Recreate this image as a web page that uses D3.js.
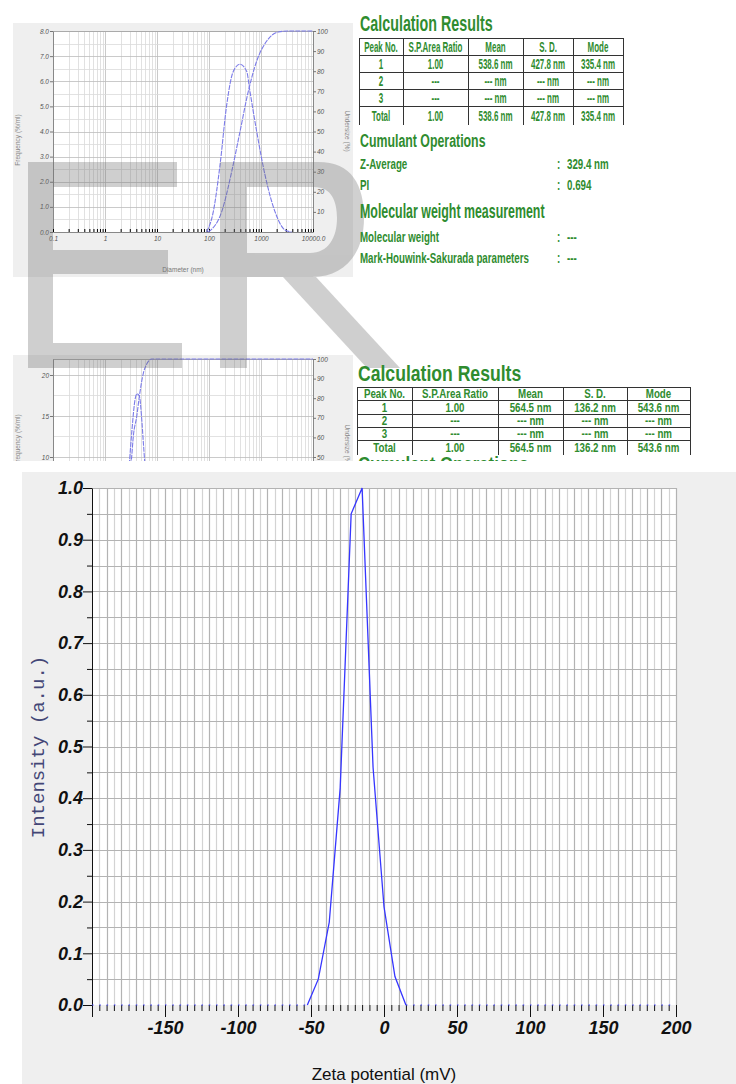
<!DOCTYPE html>
<html>
<head>
<meta charset="utf-8">
<script src="https://cdn.jsdelivr.net/npm/d3@7"></script>
<style>
body{margin:0;background:#fff}
svg{display:block}
text{font-family:"Liberation Sans",Arial,sans-serif}
</style>
</head>
<body>
<div id="demo"></div>
<script>

// ---- size distribution report (top) ----
var sizeFreqD = [90, 121, 163, 219, 293, 395, 531, 614, 826, 1194, 1858, 2894, 3890];
var sizeFreqV = [0, 0.81, 2.67, 5.06, 6.39, 6.68, 6.39, 5.59, 4.0, 2.27, 0.81, 0.08, 0];
var sizeUndD = [97, 175, 273, 395, 570, 826, 1288, 2153, 3300, 10000];
var sizeUndV = [0, 10, 30, 50, 70, 85, 95, 99.5, 100, 100];
var sizeTicksX = [0.1, 1, 10, 100, 1000, 10000];
var sizeTickLbl = ["0.1", "1", "10", "100", "1000", "10000.0"];
var freqTicks = [0, 1, 2, 3, 4, 5, 6, 7, 8];
var underTicks = [10, 20, 30, 40, 50, 60, 70, 80, 90, 100];

// ---- second report (cut off) ----
var size2FreqD = [250, 289, 330, 378, 412, 460, 503, 550, 614, 700];
var size2FreqV = [1, 8.4, 13.3, 17.0, 17.7, 17.4, 15.0, 11.5, 7.2, 2];
var size2UndD = [212, 242, 277, 326, 350, 407, 457, 546, 634, 791, 1000000];
var size2UndV = [0, 15, 35, 50.2, 60.4, 70.6, 80.8, 92.7, 97.4, 100, 100];
var freq2Ticks = [0, 5, 10, 15, 20];

// ---- tables ----
var tableHead = ["Peak No.", "S.P.Area Ratio", "Mean", "S. D.", "Mode"];
var table1 = [
	["1", "1.00", "538.6 nm", "427.8 nm", "335.4 nm"],
	["2", "---", "--- nm", "--- nm", "--- nm"],
	["3", "---", "--- nm", "--- nm", "--- nm"],
	["Total", "1.00", "538.6 nm", "427.8 nm", "335.4 nm"]
];
var table2 = [
	["1", "1.00", "564.5 nm", "136.2 nm", "543.6 nm"],
	["2", "---", "--- nm", "--- nm", "--- nm"],
	["3", "---", "--- nm", "--- nm", "--- nm"],
	["Total", "1.00", "564.5 nm", "136.2 nm", "543.6 nm"]
];
var cumulant = [["Z-Average", "329.4 nm"], ["PI", "0.694"]];
var molWeight = [["Molecular weight", "---"], ["Mark-Houwink-Sakurada parameters", "---"]];

// ---- zeta potential ----
var zeta = [-52.5, -45, -37.5, -30, -22.5, -15, -7.5, 0, 7.5, 15];
var intensity = [0, 0.05, 0.16, 0.42, 0.95, 1.0, 0.46, 0.19, 0.055, 0];
var zetaTicks = [-200, -150, -100, -50, 0, 50, 100, 150, 200];
var intensityTicks = [0, 0.1, 0.2, 0.3, 0.4, 0.5, 0.6, 0.7, 0.8, 0.9, 1.0];

var green = "#2f8c2f";

var svg = d3.select("#demo").append("svg")
	.attr("width", 736)
	.attr("height", 1084);

// condensed green text
function ctext(g, x, y, s, size, sx, anchor) {
	return g.append("text")
		.attr("transform", "translate(" + x + "," + y + ") scale(" + sx + ",1)")
		.attr("text-anchor", anchor || "start")
		.attr("font-size", size)
		.attr("font-weight", "bold")
		.attr("fill", green)
		.text(s);
}

// small size distribution chart
function sizeChart(g, o) {
	var x = d3.scaleLog().domain(o.xDomain).range([53, 313]);
	var yL = d3.scaleLinear().domain(o.yDomain).range([o.bottom, o.top]);
	var yR = d3.scaleLinear().domain([0, 100]).range([o.bottom, o.top]);

	g.append("rect").attr("x", 13).attr("y", o.bgTop).attr("width", 340).attr("height", o.bgH).attr("fill", "#efefef");
	g.append("rect").attr("x", 53).attr("y", o.top).attr("width", 260).attr("height", o.bottom - o.top).attr("fill", "#fff");

	// grid
	g.selectAll(".vg").data(x.ticks()).enter().append("line")
		.attr("x1", function(d) { return Math.round(x(d)) + 0.5; })
		.attr("x2", function(d) { return Math.round(x(d)) + 0.5; })
		.attr("y1", o.top).attr("y2", o.bottom)
		.attr("stroke", function(d) { return Math.abs(Math.log10(d) % 1) < 1e-6 ? "#bdbdbd" : "#d9d9d9"; })
		.attr("stroke-width", 0.8);
	g.selectAll(".hg").data(o.hGrid).enter().append("line")
		.attr("x1", 53).attr("x2", 313)
		.attr("y1", function(d) { return Math.round(yL(d)) + 0.5; })
		.attr("y2", function(d) { return Math.round(yL(d)) + 0.5; })
		.attr("stroke", function(d, i) { return i % 2 ? "#dadada" : "#bdbdbd"; })
		.attr("stroke-width", 0.8);
	g.append("line").attr("x1", 53).attr("x2", 313).attr("y1", o.top + 0.5).attr("y2", o.top + 0.5).attr("stroke", "#aaa");

	// axes
	var left = g.append("g").attr("transform", "translate(53,0)")
		.call(d3.axisLeft(yL).tickValues(o.yTicks).tickFormat(d3.format(o.yFmt)).tickSize(3).tickSizeOuter(0).tickPadding(1));
	var right = g.append("g").attr("transform", "translate(313,0)")
		.call(d3.axisRight(yR).tickValues(underTicks).tickSize(3).tickSizeOuter(0).tickPadding(1));
	var bottom = g.append("g").attr("transform", "translate(0," + o.bottom + ")")
		.call(d3.axisBottom(x).tickValues(sizeTicksX.map(function(d) { return d * o.xShift; }))
			.tickFormat(function(d, i) { return sizeTickLbl[i]; }).tickSize(0).tickPadding(4));
	g.append("g").attr("transform", "translate(0," + o.bottom + ")")
		.call(d3.axisBottom(x).tickValues(x.ticks()).tickFormat("").tickSize(-3).tickSizeOuter(0))
		.select(".domain").remove();
	[left, right, bottom].forEach(function(a) {
		a.selectAll(".domain").attr("stroke", "#888");
		a.selectAll(".tick line").attr("stroke", "#777");
		a.selectAll("text").attr("font-size", 6.5).attr("font-style", "italic").attr("fill", "#555");
	});

	// titles
	g.append("text").attr("transform", "translate(20," + o.lblLeftY + ") rotate(-90)")
		.attr("text-anchor", "middle").attr("font-size", 6.5).attr("fill", "#888").text("Frequency (%/ml)");
	g.append("text").attr("transform", "translate(345," + o.lblRightY + ") rotate(90)")
		.attr("text-anchor", "middle").attr("font-size", 6.5).attr("fill", "#888").text("Undersize (%)");
	if (o.showXLabel) {
		g.append("text").attr("x", 183).attr("y", 272).attr("text-anchor", "middle")
			.attr("font-size", 6.5).attr("fill", "#777").text("Diameter (nm)");
	}

	// curves
	var lf = d3.line().curve(d3.curveMonotoneX)
		.x(function(d) { return x(d[0]); }).y(function(d) { return yL(d[1]); });
	var lu = d3.line().curve(d3.curveMonotoneX)
		.x(function(d) { return x(d[0]); }).y(function(d) { return yR(d[1]); });
	g.append("path").attr("d", lf(d3.zip(o.fD, o.fV)))
		.attr("fill", "none").attr("stroke", "#7b7be8").attr("stroke-width", 1.1).attr("stroke-dasharray", "5,1");
	g.append("path").attr("d", lu(d3.zip(o.uD, o.uV)))
		.attr("fill", "none").attr("stroke", "#7b7be8").attr("stroke-width", 1.1).attr("stroke-dasharray", "5,1");
}

// results table
function drawTable(g, cols, rows, data, size, sx) {
	rows.slice(0, 5).forEach(function(r) {
		g.append("line").attr("x1", cols[0]).attr("x2", cols[cols.length - 1])
			.attr("y1", r + 0.5).attr("y2", r + 0.5).attr("stroke", "#333").attr("stroke-width", 1);
	});
	cols.forEach(function(c) {
		g.append("line").attr("x1", c + 0.5).attr("x2", c + 0.5)
			.attr("y1", rows[0]).attr("y2", rows[rows.length - 1]).attr("stroke", "#333").attr("stroke-width", 1);
	});
	[tableHead].concat(data).forEach(function(row, ri) {
		var yc = (rows[ri] + rows[ri + 1]) / 2 + size * 0.36;
		row.forEach(function(s, ci) {
			ctext(g, (cols[ci] + cols[ci + 1]) / 2, yc, s, size, sx, "middle");
		});
	});
}

// ===== top report =====
var topG = svg.append("g");
sizeChart(topG, {
	xDomain: [0.1, 10000], xShift: 1, yDomain: [0, 8], top: 31, bottom: 232,
	bgTop: 23, bgH: 254, yTicks: freqTicks, yFmt: ".1f",
	hGrid: d3.range(0, 8.01, 0.5), lblLeftY: 140, lblRightY: 131, showXLabel: true,
	fD: sizeFreqD, fV: sizeFreqV, uD: sizeUndD, uV: sizeUndV
});

// ===== second report, cut off =====
svg.append("clipPath").attr("id", "cut").append("rect")
	.attr("x", 0).attr("y", 340).attr("width", 736).attr("height", 121);
var midG = svg.append("g").attr("clip-path", "url(#cut)");
sizeChart(midG, {
	xDomain: [10, 1000000], xShift: 100, yDomain: [-1.95, 21.95], top: 359, bottom: 555,
	bgTop: 355, bgH: 210, yTicks: freq2Ticks, yFmt: "d",
	hGrid: d3.range(0, 21, 2.5), lblLeftY: 440, lblRightY: 445, showXLabel: false,
	fD: size2FreqD, fV: size2FreqV, uD: size2UndD, uV: size2UndV
});

// ===== watermark =====
var wm = svg.append("g").attr("opacity", 0.33).attr("fill", "#707070");
wm.append("rect").attr("x", 28).attr("y", 162).attr("width", 25).attr("height", 206);
wm.append("rect").attr("x", 28).attr("y", 162).attr("width", 149).attr("height", 25);
wm.append("rect").attr("x", 28).attr("y", 250).attr("width", 140).attr("height", 24);
wm.append("rect").attr("x", 28).attr("y", 343).attr("width", 154).attr("height", 25);
wm.append("rect").attr("x", 220).attr("y", 162).attr("width", 27).attr("height", 206);
wm.append("path").attr("fill-rule", "evenodd")
	.attr("d", "M220,162 H318 C352,162 364,185 364,218 C364,252 346,277 312,277 H220 Z " +
		"M247,187 H314 C332,187 337,202 337,218 C337,238 328,253 310,253 H247 Z");
wm.append("path").attr("d", "M283,277 L316,277 L400,368 L367,368 Z");

// ===== right-hand texts, top report =====
var rt = svg.append("g");
ctext(rt, 360, 31, "Calculation Results", 22, 0.65);
drawTable(rt, [359, 403, 468, 523, 573, 623], [38, 55, 72, 89, 106, 125], table1, 14, 0.57);
ctext(rt, 360, 147, "Cumulant Operations", 19, 0.65);
cumulant.forEach(function(r, i) {
	var y = 169 + i * 21;
	ctext(rt, 360, y, r[0], 15, 0.65);
	ctext(rt, 557, y, ":", 15, 0.65);
	ctext(rt, 567, y, r[1], 15, 0.65);
});
ctext(rt, 360, 218, "Molecular weight measurement", 20, 0.62);
molWeight.forEach(function(r, i) {
	var y = 242 + i * 21;
	ctext(rt, 360, y, r[0], 15, 0.65);
	ctext(rt, 557, y, ":", 15, 0.65);
	ctext(rt, 567, y, r[1], 15, 0.65);
});

// right-hand texts, second report
var rt2 = svg.append("g").attr("clip-path", "url(#cut)");
ctext(rt2, 358, 381, "Calculation Results", 22, 0.8);
drawTable(rt2, [357, 412, 498, 563, 627, 690], [387, 400, 414, 427, 440, 455], table2, 12.5, 0.78);
ctext(rt2, 358, 471, "Cumulant Operations", 21, 0.8);

// ===== zeta potential chart =====
var zg = svg.append("g");
zg.append("rect").attr("x", 22).attr("y", 472).attr("width", 714).attr("height", 612).attr("fill", "#efefef");
zg.append("rect").attr("x", 92).attr("y", 488).attr("width", 584).attr("height", 517).attr("fill", "#fff");

var zx = d3.scaleLinear().domain([-200, 200]).range([92, 676]);
var zy = d3.scaleLinear().domain([0, 1]).range([1005, 488]);

// grid
zg.selectAll(".zv").data(d3.range(-195, 201, 5)).enter().append("line")
	.attr("x1", function(d) { return Math.round(zx(d)) + 0.5; })
	.attr("x2", function(d) { return Math.round(zx(d)) + 0.5; })
	.attr("y1", 488).attr("y2", 1005)
	.attr("stroke", function(d) { return d % 10 === 0 ? "#b3b3b3" : "#d3d3d3"; })
	.attr("stroke-width", 1.2);
zg.selectAll(".zh").data(d3.range(1, 21)).enter().append("line")
	.attr("x1", 92).attr("x2", 676)
	.attr("y1", function(d) { return Math.round(zy(d * 0.05)) + 0.5; })
	.attr("y2", function(d) { return Math.round(zy(d * 0.05)) + 0.5; })
	.attr("stroke", "#b3b3b3").attr("stroke-width", 1.2);

// axes
var axL = zg.append("g").attr("transform", "translate(92,0)")
	.call(d3.axisLeft(zy).tickValues(intensityTicks).tickFormat(d3.format(".1f"))
		.tickSize(9).tickSizeOuter(0).tickPadding(0));
zg.append("g").attr("transform", "translate(92,0)")
	.call(d3.axisLeft(zy).tickValues(intensityTicks.slice(0, 10).map(function(d) { return d + 0.05; }))
		.tickFormat("").tickSize(5).tickSizeOuter(0))
	.select(".domain").remove();
var axB = zg.append("g").attr("transform", "translate(0,1005)")
	.call(d3.axisBottom(zx).tickValues(zetaTicks)
		.tickFormat(function(d) { return d === -200 ? "" : String(d); })
		.tickSize(12).tickSizeOuter(0).tickPadding(4));
axB.select(".domain").remove();
zg.append("g").attr("transform", "translate(0,1005)")
	.call(d3.axisBottom(zx).tickValues(d3.range(-195, 200, 5).filter(function(d) { return d % 50 !== 0; }))
		.tickFormat("").tickSize(6).tickSizeOuter(0))
	.select(".domain").remove();
zg.selectAll(".tick line").attr("stroke", "#111");
axL.select(".domain").attr("stroke", "#111");
[axL, axB].forEach(function(a) {
	a.selectAll("text")
		.style("font-family", "'Liberation Sans', Arial, sans-serif")
		.attr("font-size", 18).attr("font-weight", "bold").attr("font-style", "italic").attr("fill", "#111");
});

// baseline (dotted) and curve
zg.append("line").attr("x1", zx(-200)).attr("x2", zx(zeta[0])).attr("y1", zy(0)).attr("y2", zy(0))
	.attr("stroke", "#3b3bff").attr("stroke-width", 1.2).attr("stroke-dasharray", "1.5,5.8");
zg.append("line").attr("x1", zx(zeta[zeta.length - 1])).attr("x2", zx(200)).attr("y1", zy(0)).attr("y2", zy(0))
	.attr("stroke", "#3b3bff").attr("stroke-width", 1.2).attr("stroke-dasharray", "1.5,5.8");
var zline = d3.line()
	.x(function(d) { return zx(d[0]); })
	.y(function(d) { return zy(d[1]); });
zg.append("path").attr("d", zline(d3.zip(zeta, intensity)))
	.attr("fill", "none").attr("stroke", "#3535ff").attr("stroke-width", 1.3);

// titles
zg.append("text").attr("x", 384).attr("y", 1080).attr("text-anchor", "middle")
	.attr("font-size", 17).attr("fill", "#111").text("Zeta potential (mV)");
zg.append("text").attr("transform", "translate(44,747) rotate(-90)").attr("text-anchor", "middle")
	.style("font-family", "'Liberation Mono', 'Courier New', monospace")
	.attr("font-size", 19).attr("fill", "#434676").text("Intensity (a.u.)");

</script>
</body>
</html>
